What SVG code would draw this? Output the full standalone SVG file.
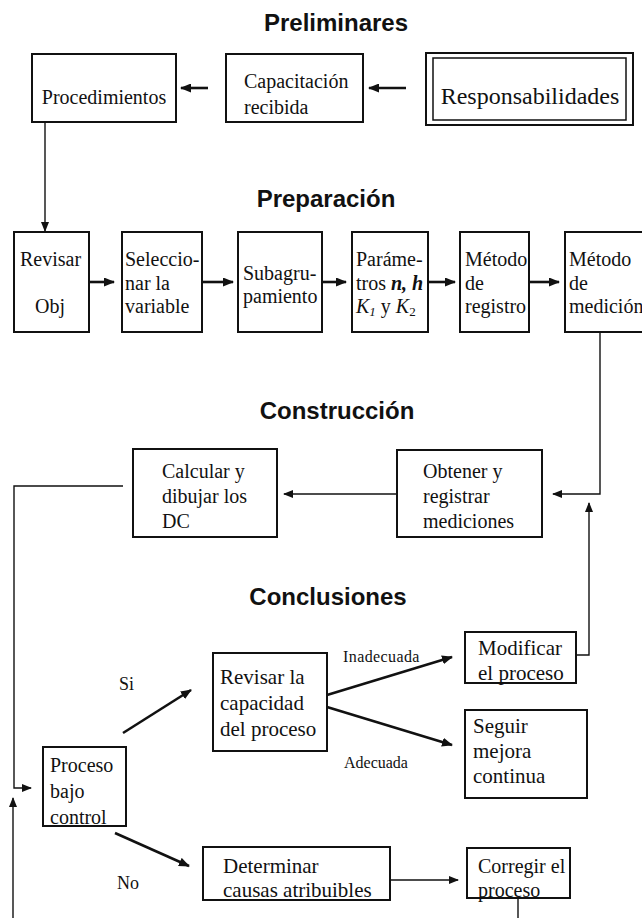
<svg xmlns="http://www.w3.org/2000/svg" width="642" height="918" viewBox="0 0 642 918">
<style>
.bg{fill:#ffffff}
.box{fill:#ffffff;stroke:#111;stroke-width:2}
.t{font-family:"Liberation Serif","Times New Roman",serif;font-size:20px;fill:#111}
.t21{font-family:"Liberation Serif","Times New Roman",serif;font-size:21px;fill:#111}
.lbl{font-family:"Liberation Serif","Times New Roman",serif;font-size:16px;fill:#111}
.title{font-family:"Liberation Sans",Arial,sans-serif;font-size:24px;font-weight:bold;fill:#111;text-anchor:middle}
.thin{fill:none;stroke:#111;stroke-width:1.4}
.thick{fill:none;stroke:#111;stroke-width:2.6}
</style>
<defs>
<marker id="ah" markerUnits="userSpaceOnUse" markerWidth="11" markerHeight="9" refX="10" refY="4.5" orient="auto">
<path d="M0,0 L11,4.5 L0,9 z" fill="#111"/>
</marker>
<marker id="ahs" markerUnits="userSpaceOnUse" markerWidth="10" markerHeight="8" refX="9" refY="4" orient="auto">
<path d="M0,0 L10,4 L0,8 z" fill="#111"/>
</marker>
</defs>
<rect class="bg" x="0" y="0" width="642" height="918"/>

<g id="titles">
<text class="title" x="336" y="31">Preliminares</text>
<text class="title" x="326" y="207">Preparación</text>
<text class="title" x="337" y="419">Construcción</text>
<text class="title" x="328" y="605">Conclusiones</text>
</g>

<g id="connectors">
<line class="thick" x1="406" y1="88" x2="369" y2="88" marker-end="url(#ah)"/>
<line class="thick" x1="208" y1="88" x2="181" y2="88" marker-end="url(#ah)"/>
<line class="thin" x1="45" y1="122" x2="45" y2="231" marker-end="url(#ahs)"/>
<line class="thick" x1="89" y1="282" x2="114" y2="282" marker-end="url(#ah)"/>
<line class="thick" x1="202" y1="282" x2="233" y2="282" marker-end="url(#ah)"/>
<line class="thick" x1="322" y1="282" x2="346" y2="282" marker-end="url(#ah)"/>
<line class="thick" x1="428" y1="282" x2="455" y2="282" marker-end="url(#ah)"/>
<line class="thick" x1="529" y1="282" x2="559" y2="282" marker-end="url(#ah)"/>
<polyline class="thin" points="600,332 600,494 553,494" marker-end="url(#ahs)"/>
<line class="thin" x1="397" y1="494" x2="284" y2="494" marker-end="url(#ahs)"/>
<polyline class="thin" points="123,486 14,486 14,788 31,788" marker-end="url(#ahs)"/>
<line class="thin" x1="13" y1="918" x2="13" y2="798" marker-end="url(#ahs)"/>
<polyline class="thin" points="576,655 589,655 589,503" marker-end="url(#ahs)"/>
<line class="thick" x1="123" y1="733" x2="191" y2="690" marker-end="url(#ah)"/>
<line class="thick" x1="115" y1="833" x2="189" y2="866" marker-end="url(#ah)"/>
<line class="thick" x1="327" y1="695" x2="452" y2="657" marker-end="url(#ah)"/>
<line class="thick" x1="327" y1="707" x2="452" y2="745" marker-end="url(#ah)"/>
<line class="thin" x1="390" y1="880" x2="458" y2="880" marker-end="url(#ahs)"/>
<line class="thin" x1="518" y1="898" x2="518" y2="918"/>
</g>

<g id="labels">
<text class="lbl" x="119" y="690" style="font-size:18px">Si</text>
<text class="lbl" x="117" y="889" style="font-size:18px">No</text>
<text class="lbl" x="343" y="662" style="letter-spacing:0.4px">Inadecuada</text>
<text class="lbl" x="344" y="768">Adecuada</text>
</g>

<g id="n-procedimientos">
<rect class="box" x="32" y="54" width="144" height="68"/>
<text class="t" x="104" y="104" text-anchor="middle">Procedimientos</text>
</g>
<g id="n-capacitacion">
<rect class="box" x="226" y="54" width="137" height="68"/>
<text class="t" x="244" y="88">Capacitación</text>
<text class="t" x="244" y="114">recibida</text>
</g>
<g id="n-responsabilidades">
<rect class="box" x="426" y="53" width="207" height="72"/>
<rect x="433" y="58" width="193" height="62" fill="none" stroke="#111" stroke-width="1.5"/>
<text class="t" x="530" y="104" text-anchor="middle" style="font-size:24px">Responsabilidades</text>
</g>

<g id="n-revisar-obj">
<rect class="box" x="14" y="232" width="75" height="100"/>
<text class="t" x="20" y="266">Revisar</text>
<text class="t" x="35" y="313">Obj</text>
</g>
<g id="n-seleccionar">
<rect class="box" x="122" y="232" width="80" height="100"/>
<text class="t" x="125" y="266">Seleccio-</text>
<text class="t" x="125" y="290">nar la</text>
<text class="t" x="125" y="313">variable</text>
</g>
<g id="n-subagrupamiento">
<rect class="box" x="238" y="232" width="84" height="100"/>
<text class="t" x="243" y="280">Subagru-</text>
<text class="t" x="243" y="303">pamiento</text>
</g>
<g id="n-parametros">
<rect class="box" x="352" y="232" width="76" height="100"/>
<text class="t" x="356" y="266">Paráme-</text>
<text class="t" x="356" y="290">tros <tspan font-style="italic" font-weight="bold">n, h</tspan></text>
<text class="t" x="356" y="313"><tspan font-style="italic">K</tspan><tspan font-style="italic" font-size="13" dy="3">1</tspan><tspan dy="-3"> y </tspan><tspan font-style="italic">K</tspan><tspan font-size="13" dy="3">2</tspan></text>
</g>
<g id="n-metodo-registro">
<rect class="box" x="460" y="232" width="69" height="100"/>
<text class="t" x="465" y="266">Método</text>
<text class="t" x="465" y="290">de</text>
<text class="t" x="465" y="313">registro</text>
</g>
<g id="n-metodo-medicion">
<rect class="box" x="565" y="232" width="90" height="100"/>
<text class="t" x="569" y="266">Método</text>
<text class="t" x="569" y="290">de</text>
<text class="t" x="569" y="313">medición</text>
</g>

<g id="n-calcular">
<rect class="box" x="133" y="449" width="144" height="88"/>
<text class="t" x="162" y="478">Calcular y</text>
<text class="t" x="162" y="503">dibujar los</text>
<text class="t" x="162" y="528">DC</text>
</g>
<g id="n-obtener">
<rect class="box" x="397" y="450" width="145" height="87"/>
<text class="t" x="423" y="478">Obtener y</text>
<text class="t" x="423" y="503">registrar</text>
<text class="t" x="423" y="528">mediciones</text>
</g>

<g id="n-revisar-capacidad">
<rect class="box" x="213" y="653" width="114" height="98"/>
<text class="t21" x="220" y="684">Revisar la</text>
<text class="t21" x="220" y="710">capacidad</text>
<text class="t21" x="220" y="736">del proceso</text>
</g>
<g id="n-modificar">
<rect class="box" x="465" y="632" width="111" height="51"/>
<text class="t21" x="478" y="655">Modificar</text>
<text class="t21" x="478" y="680">el proceso</text>
</g>
<g id="n-seguir">
<rect class="box" x="465" y="710" width="122" height="88"/>
<text class="t21" x="473" y="733">Seguir</text>
<text class="t21" x="473" y="758">mejora</text>
<text class="t21" x="473" y="783">continua</text>
</g>
<g id="n-proceso-control">
<rect class="box" x="43" y="747" width="83" height="79"/>
<text class="t" x="50" y="772">Proceso</text>
<text class="t" x="50" y="798">bajo</text>
<text class="t" x="50" y="824">control</text>
</g>
<g id="n-determinar">
<rect class="box" x="203" y="847" width="187" height="53"/>
<text class="t21" x="223" y="873">Determinar</text>
<text class="t21" x="223" y="897">causas atribuibles</text>
</g>
<g id="n-corregir">
<rect class="box" x="467" y="848" width="103" height="50"/>
<text class="t" x="478" y="873">Corregir el</text>
<text class="t" x="478" y="897">proceso</text>
</g>
</svg>
